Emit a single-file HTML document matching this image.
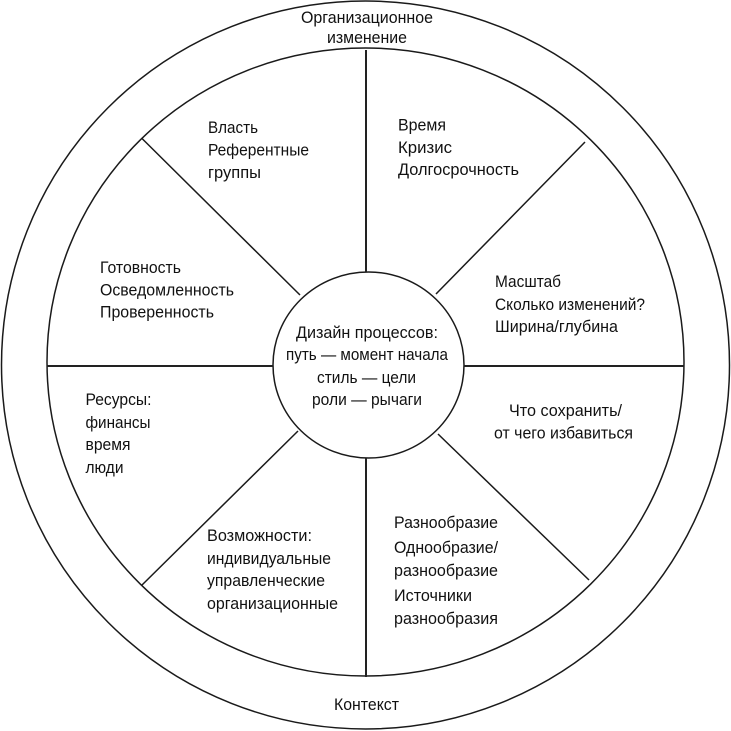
<!DOCTYPE html>
<html><head><meta charset="utf-8">
<style>html,body{margin:0;padding:0;background:#fff}svg{display:block}
text{font-family:"Liberation Sans Narrow","Liberation Sans",sans-serif;font-size:17px;fill:#111}</style></head>
<body>
<svg width="731" height="731" viewBox="0 0 731 731" xmlns="http://www.w3.org/2000/svg">
<g fill="none" stroke="#1a1a1a" stroke-width="1.5">
<ellipse cx="365.5" cy="365" rx="364" ry="364"/>
<ellipse cx="365.5" cy="362" rx="318.500" ry="314"/>
<ellipse cx="368.5" cy="365" rx="95.5" ry="93"/>
<path d="M141.500 138L300 295M585 142L436 294M142 585L298 431M589 580L438 434"/>
</g>
<path d="M366 50V272M366 458V677M47 366H273M464 366H684" fill="none" stroke="#222" stroke-width="2"/>
<g>
<text x="301" y="23" textLength="132" lengthAdjust="spacingAndGlyphs">Организационное</text>
<text x="327" y="43" textLength="80" lengthAdjust="spacingAndGlyphs">изменение</text>
<text x="208" y="133" textLength="50" lengthAdjust="spacingAndGlyphs">Власть</text>
<text x="208" y="155.500" textLength="101" lengthAdjust="spacingAndGlyphs">Референтные</text>
<text x="208" y="178" textLength="53" lengthAdjust="spacingAndGlyphs">группы</text>
<text x="398" y="130.500" textLength="48" lengthAdjust="spacingAndGlyphs">Время</text>
<text x="398" y="153" textLength="54" lengthAdjust="spacingAndGlyphs">Кризис</text>
<text x="398" y="175" textLength="121" lengthAdjust="spacingAndGlyphs">Долгосрочность</text>
<text x="495" y="287" textLength="66" lengthAdjust="spacingAndGlyphs">Масштаб</text>
<text x="495" y="310" textLength="150" lengthAdjust="spacingAndGlyphs">Сколько изменений?</text>
<text x="495" y="332" textLength="123" lengthAdjust="spacingAndGlyphs">Ширина/глубина</text>
<text x="509" y="416" textLength="113" lengthAdjust="spacingAndGlyphs">Что сохранить/</text>
<text x="494" y="438.500" textLength="139" lengthAdjust="spacingAndGlyphs">от чего избавиться</text>
<text x="394" y="528" textLength="104" lengthAdjust="spacingAndGlyphs">Разнообразие</text>
<text x="394" y="553" textLength="104" lengthAdjust="spacingAndGlyphs">Однообразие/</text>
<text x="394" y="576" textLength="104" lengthAdjust="spacingAndGlyphs">разнообразие</text>
<text x="394" y="601" textLength="78" lengthAdjust="spacingAndGlyphs">Источники</text>
<text x="394" y="624" textLength="104" lengthAdjust="spacingAndGlyphs">разнообразия</text>
<text x="207" y="541" textLength="105" lengthAdjust="spacingAndGlyphs">Возможности:</text>
<text x="207" y="564" textLength="124" lengthAdjust="spacingAndGlyphs">индивидуальные</text>
<text x="207" y="586" textLength="118" lengthAdjust="spacingAndGlyphs">управленческие</text>
<text x="207" y="609" textLength="131" lengthAdjust="spacingAndGlyphs">организационные</text>
<text x="85.500" y="405" textLength="66" lengthAdjust="spacingAndGlyphs">Ресурсы:</text>
<text x="85.500" y="428" textLength="65" lengthAdjust="spacingAndGlyphs">финансы</text>
<text x="85.500" y="450" textLength="45" lengthAdjust="spacingAndGlyphs">время</text>
<text x="85.500" y="473" textLength="38" lengthAdjust="spacingAndGlyphs">люди</text>
<text x="100" y="273" textLength="81" lengthAdjust="spacingAndGlyphs">Готовность</text>
<text x="100" y="295.500" textLength="134" lengthAdjust="spacingAndGlyphs">Осведомленность</text>
<text x="100" y="317.500" textLength="114" lengthAdjust="spacingAndGlyphs">Проверенность</text>
<text x="296" y="338" textLength="142" lengthAdjust="spacingAndGlyphs">Дизайн процессов:</text>
<text x="286" y="360" textLength="162" lengthAdjust="spacingAndGlyphs">путь — момент начала</text>
<text x="317" y="383" textLength="99" lengthAdjust="spacingAndGlyphs">стиль — цели</text>
<text x="312" y="405" textLength="110" lengthAdjust="spacingAndGlyphs">роли — рычаги</text>
<text x="334" y="710" textLength="65" lengthAdjust="spacingAndGlyphs">Контекст</text>
</g>
</svg>
</body></html>
